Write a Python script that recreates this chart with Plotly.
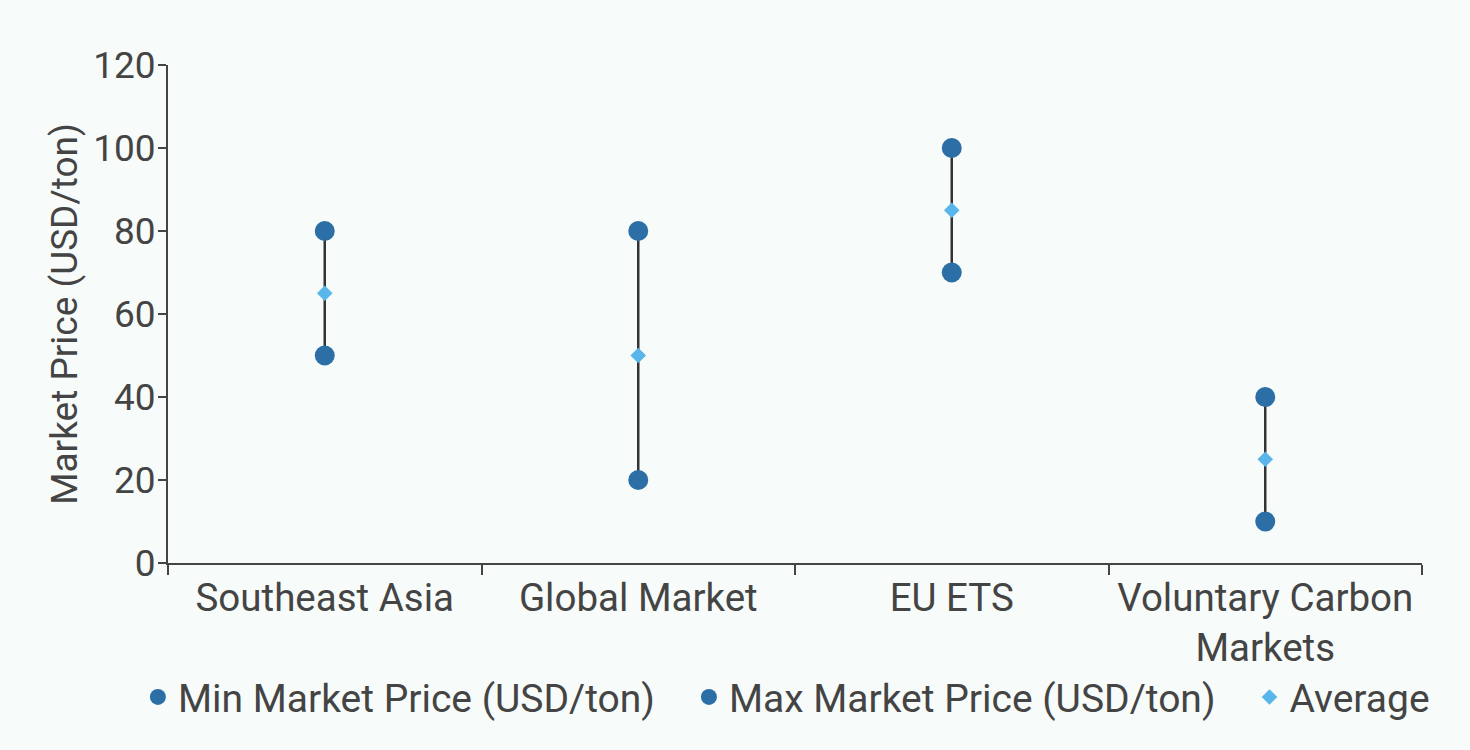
import plotly.graph_objects as go

regions = ["Southeast Asia", "Global Market", "EU ETS", "Voluntary Carbon<br>Markets"]
min_price = [50, 20, 70, 10]
max_price = [80, 80, 100, 40]
avg_price = [65, 50, 85, 25]

dark_blue = "#2b6fa6"
light_blue = "#5ab6ea"
text_col = "#444444"
bg = "#f7fbfa"
pad = "\u00a0\u00a0\u00a0"  # extra gap between legend entries

fig = go.Figure()

# vertical range lines between min and max
line_x, line_y = [], []
for r, lo, hi in zip(regions, min_price, max_price):
    line_x += [r, r, None]
    line_y += [lo, hi, None]

fig.add_trace(go.Scatter(
    x=line_x, y=line_y, mode="lines",
    line=dict(color="#333333", width=2.5),
    showlegend=False, hoverinfo="skip"
))

fig.add_trace(go.Scatter(
    x=regions, y=min_price, mode="markers",
    name="Min Market Price (USD/ton)" + pad,
    marker=dict(color=dark_blue, size=20, symbol="circle")
))

fig.add_trace(go.Scatter(
    x=regions, y=max_price, mode="markers",
    name="Max Market Price (USD/ton)" + pad,
    marker=dict(color=dark_blue, size=20, symbol="circle")
))

fig.add_trace(go.Scatter(
    x=regions, y=avg_price, mode="markers",
    name="Average",
    marker=dict(color=light_blue, size=12, symbol="diamond")
))

fig.update_layout(
    width=1470, height=750,
    margin=dict(l=168, r=48, t=65, b=187),
    paper_bgcolor=bg,
    plot_bgcolor=bg,
    font=dict(family="Roboto", color=text_col, size=38),
    legend=dict(
        orientation="h", x=-0.024, xanchor="left",
        y=-0.205, yanchor="top",
        font=dict(size=39), itemwidth=30,
        bgcolor="rgba(0,0,0,0)"
    ),
    xaxis=dict(
        type="category", range=[-0.5, 3.5],
        showline=True, linecolor=text_col, linewidth=2,
        ticks="outside", tickson="boundaries", ticklen=10,
        tickcolor=text_col, tickwidth=2,
        showgrid=False, zeroline=False,
        tickfont=dict(size=38.5)
    ),
    yaxis=dict(
        range=[0, 120], tickvals=[0, 20, 40, 60, 80, 100, 120],
        showline=True, linecolor=text_col, linewidth=2,
        ticks="outside", ticklen=8, tickcolor=text_col, tickwidth=2,
        showgrid=False, zeroline=False,
        tickfont=dict(size=37), ticklabelstandoff=-5,
        title=dict(text="Market Price (USD/ton)", font=dict(size=37), standoff=4)
    ),
)

fig.write_html("out.html", config={"displayModeBar": False},
               post_script="document.body.style.margin='0';")
